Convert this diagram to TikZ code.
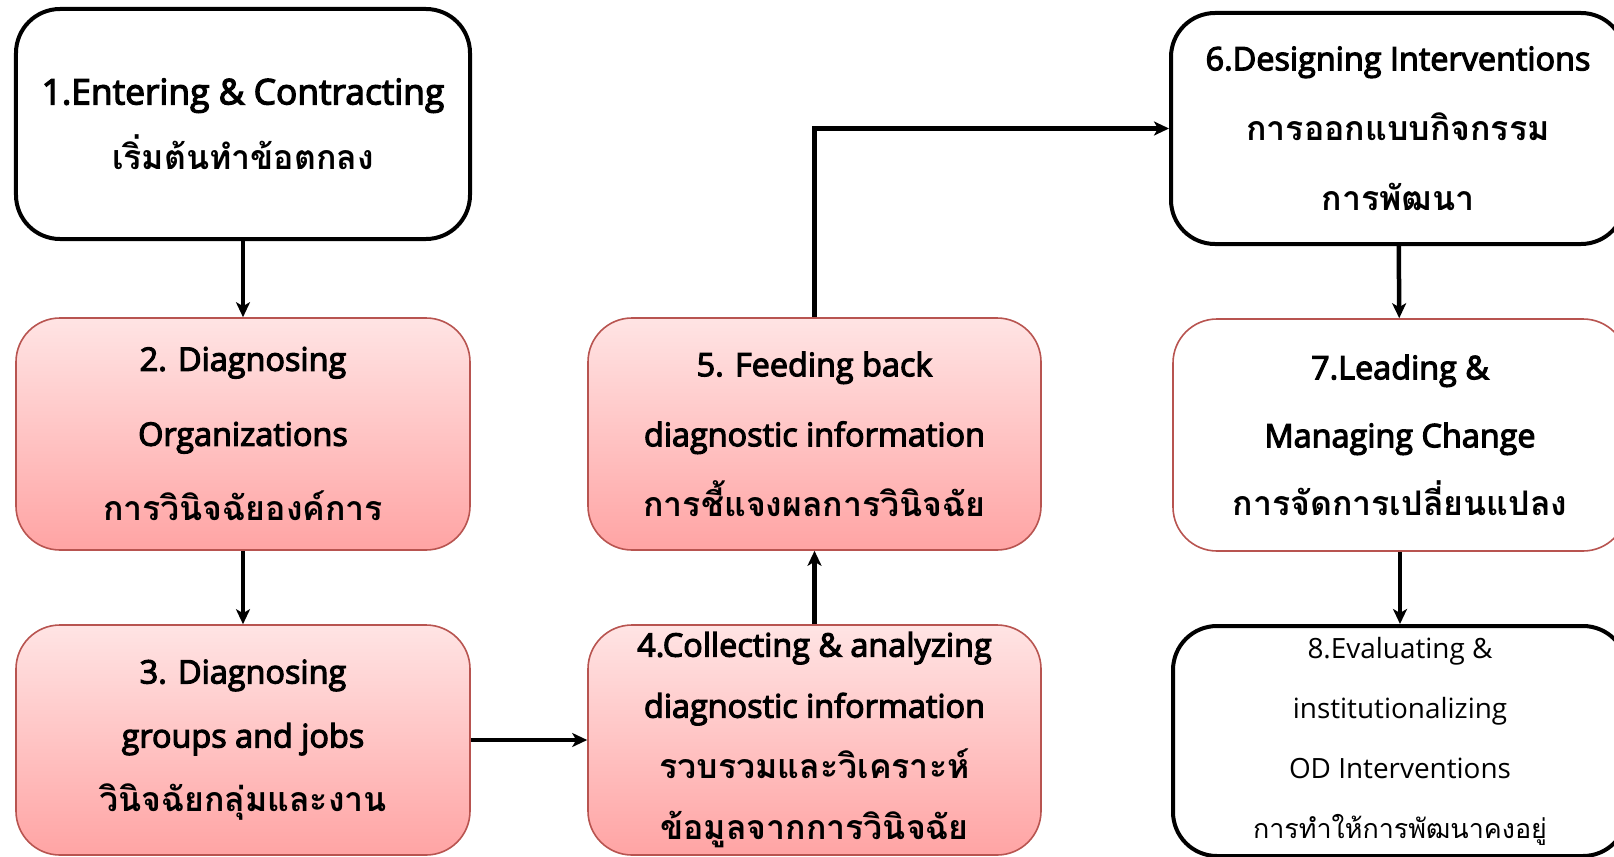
\documentclass[tikz,border=0pt]{standalone}
\usepackage{fontspec}
\newfontfamily\thaifont[Script=Thai]{Loma}
\newfontfamily\latfont{Open Sans}
\newfontfamily\latsemi[FakeBold=3.5]{Open Sans}
\usetikzlibrary{arrows.meta}
\definecolor{pinkTop}{HTML}{FFE4E4}
\definecolor{pinkBot}{HTML}{FFA4A4}
\definecolor{redLine}{HTML}{B85450}
\newcommand{\myla}[1]{{\latsemi\fontsize{32.5}{32.5}\selectfont #1}}
\newcommand{\mylb}[1]{{\latsemi\fontsize{35.5}{35.5}\selectfont #1}}
\newcommand{\myth}[1]{{\thaifont\bfseries\fontsize{34}{34}\selectfont #1}}
\newcommand{\mylr}[1]{{\latfont\mdseries\fontsize{28}{28}\selectfont #1}}
\newcommand{\mytr}[1]{{\thaifont\mdseries\fontsize{27}{27}\selectfont #1}}
\tikzset{
  boxbase/.style={rectangle, rounded corners=44bp, minimum width=454bp, align=center, inner sep=0pt},
  blackbox/.style={boxbase, draw=black, line width=4bp, fill=white},
  pinkbox/.style={boxbase, draw=redLine, line width=1.6bp, top color=pinkTop, bottom color=pinkBot},
  whitered/.style={boxbase, draw=redLine, line width=1.6bp, fill=white},
  txt/.style={font=\fontsize{32}{#1}\selectfont},
  conn/.style={line width=4.5bp, -{Stealth[length=15bp, width=14bp, inset=4bp]}}
}
\begin{document}
\begin{tikzpicture}[x=1bp, y=-1bp]
\useasboundingbox (0,0) rectangle (1614,856);
\node[blackbox, minimum height=230bp, txt=65bp] (n1) at (243,124) {\mylb{1.Entering \& Contracting}\\\myth{เริ่มต้นทำข้อตกลง}};
\node[pinkbox, minimum height=232bp, txt=75bp] (n2) at (243,434) {\myla{2. Diagnosing}\\\myla{Organizations}\\\myth{การวินิจฉัยองค์การ}};
\node[pinkbox, minimum height=230bp, txt=64bp] (n3) at (243,740) {\myla{3. Diagnosing}\\\myla{groups and jobs}\\\myth{วินิจฉัยกลุ่มและงาน}};
\node[pinkbox, minimum height=230bp, minimum width=453bp, txt=61bp] (n4) at (814.5,740) {\myla{4.Collecting \& analyzing}\\\myla{diagnostic information}\\\myth{รวบรวมและวิเคราะห์}\\\myth{ข้อมูลจากการวินิจฉัย}};
\node[pinkbox, minimum height=232bp, minimum width=453bp, txt=70bp] (n5) at (814.5,434) {\myla{5. Feeding back}\\\myla{diagnostic information}\\\myth{การชี้แจงผลการวินิจฉัย}};
\node[blackbox, minimum height=231bp, txt=70bp] (n6) at (1398,128.5) {\myla{6.Designing Interventions}\\\myth{การออกแบบกิจกรรม}\\\myth{การพัฒนา}};
\node[whitered, minimum height=232bp, txt=68bp] (n7) at (1400,435) {\myla{7.Leading \&}\\\myla{Managing Change}\\\myth{การจัดการเปลี่ยนแปลง}};
\node[blackbox, minimum height=230bp, txt=60bp] (n8) at (1400,741) {\mylr{8.Evaluating \&}\\\mylr{institutionalizing}\\\mylr{OD Interventions}\\\mytr{การทำให้การพัฒนาคงอยู่}};
\draw[conn] (n1) -- (n2);
\draw[conn] (n2) -- (n3);
\draw[conn] (n3.east) -- (n4.west);
\draw[conn] (n4) -- (n5);
\draw[conn] (n5.north) |- (n6.west);
\draw[conn] (n6) -- (n7);
\draw[conn] (n7) -- (n8);
\end{tikzpicture}
\end{document}
